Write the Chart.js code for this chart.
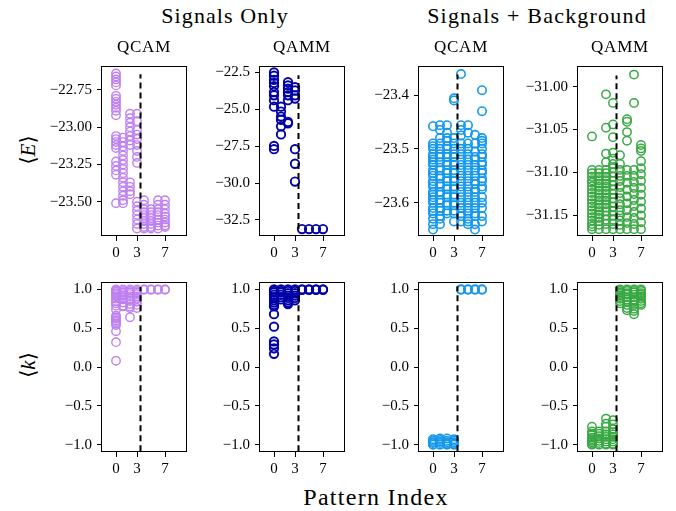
<!DOCTYPE html>
<html>
<head>
<meta charset="utf-8">
<script src="https://cdn.jsdelivr.net/npm/chart.js@4.4.1/dist/chart.umd.min.js"></script>
<style>
  body { margin: 0; background: #fff; width: 676px; height: 511px; position: relative; overflow: hidden;
         font-family: "Liberation Serif", "DejaVu Serif", serif; color: #000; }
  canvas { position: absolute; }
  .t { position: absolute; white-space: nowrap; transform: translate(-50%, -50%); }
  .rot { transform: translate(-50%, -50%) rotate(-90deg); }
</style>
</head>
<body>
<div class="t" style="left:225px;top:16px;font-size:22px;letter-spacing:1.1px">Signals Only</div>
<div class="t" style="left:537px;top:16px;font-size:22px;letter-spacing:1.2px">Signals + Background</div>
<div class="t" style="left:376px;top:497px;font-size:24px;letter-spacing:1.3px">Pattern Index</div>
<div class="t rot" style="left:28px;top:150px;font-size:21px">⟨<i>E</i>⟩</div>
<div class="t rot" style="left:28px;top:365px;font-size:21px">⟨<i>k</i>⟩</div>

<script>
// pattern index ticks and the separating line position
const xTicks = [0, 3, 7];
const splitAt = 3.5;

// ---- Signals Only, QCAM, <E> (one list per pattern index 0..7)
const qcamSigE = [
    [-22.64, -22.66, -22.68, -22.70, -22.72, -22.79, -22.81, -22.83, -22.85, -22.87, -22.89, -22.92,
     -23.06, -23.08, -23.10, -23.12, -23.14, -23.23, -23.26, -23.29, -23.32, -23.51],
    [-23.07, -23.10, -23.13, -23.16, -23.19, -23.22, -23.25, -23.28, -23.31, -23.34, -23.37, -23.40,
     -23.43, -23.46, -23.49, -23.51],
    [-22.91, -22.94, -22.97, -23.00, -23.03, -23.06, -23.09, -23.12, -23.37, -23.40, -23.43, -23.45],
    [-22.91, -22.96, -23.02, -23.05, -23.08, -23.12, -23.16, -23.20, -23.24, -23.50, -23.53, -23.56,
     -23.59, -23.62, -23.65, -23.68],
    [-23.49, -23.52, -23.55, -23.57, -23.59, -23.61, -23.63, -23.65, -23.67, -23.68],
    [-23.55, -23.57, -23.59, -23.61, -23.63, -23.65, -23.67, -23.68],
    [-23.49, -23.52, -23.55, -23.57, -23.59, -23.62, -23.64, -23.66, -23.68],
    [-23.49, -23.52, -23.55, -23.58, -23.60, -23.62, -23.64, -23.66, -23.67]
];
const qcamSigETicks = [-23.5, -23.25, -23.0, -22.75];

// ---- Signals Only, QAMM, <E>
const qammSigE = [
    [-22.50, -22.72, -23.00, -23.21, -23.43, -23.83, -24.05, -24.38, -24.82, -27.48, -27.70],
    [-24.82, -25.15, -25.49, -25.71, -26.15, -26.70],
    [-23.16, -23.38, -23.60, -23.83, -24.05, -24.38, -25.85, -25.95],
    [-23.50, -23.72, -24.05, -24.27, -27.70, -28.69, -29.90],
    [-33.12], [-33.12], [-33.12], [-33.12]
];
const qammSigETicks = [-32.5, -30.0, -27.5, -25.0, -22.5];

// ---- Signals + Background, QCAM, <E>
const qcamBgE = [
    [-23.458, -23.49, -23.495, -23.50, -23.51, -23.515, -23.525, -23.53, -23.54, -23.545, -23.55,
     -23.56, -23.565, -23.57, -23.58, -23.585, -23.59, -23.595, -23.60, -23.61, -23.615, -23.62,
     -23.63, -23.64, -23.65, -23.52],
    [-23.456, -23.465, -23.48, -23.49, -23.50, -23.51, -23.515, -23.525, -23.535, -23.54, -23.55,
     -23.555, -23.565, -23.57, -23.58, -23.585, -23.595, -23.60, -23.61, -23.615, -23.625, -23.63,
     -23.64],
    [-23.456, -23.47, -23.48, -23.485, -23.495, -23.50, -23.51, -23.515, -23.525, -23.53, -23.54,
     -23.545, -23.555, -23.56, -23.57, -23.575, -23.585, -23.59, -23.60, -23.605, -23.615, -23.62],
    [-23.406, -23.41, -23.48, -23.49, -23.50, -23.51, -23.515, -23.525, -23.53, -23.54, -23.545,
     -23.555, -23.56, -23.57, -23.575, -23.585, -23.59, -23.60, -23.605, -23.615, -23.62, -23.635],
    [-23.361, -23.456, -23.465, -23.475, -23.49, -23.50, -23.51, -23.52, -23.53, -23.54, -23.55,
     -23.56, -23.57, -23.58, -23.59, -23.60, -23.61, -23.62, -23.625, -23.635],
    [-23.456, -23.47, -23.49, -23.50, -23.51, -23.52, -23.53, -23.54, -23.55, -23.56, -23.57,
     -23.58, -23.59, -23.60, -23.61, -23.62, -23.63, -23.635, -23.64],
    [-23.474, -23.49, -23.505, -23.515, -23.52, -23.53, -23.54, -23.55, -23.56, -23.565, -23.575,
     -23.58, -23.59, -23.60, -23.61, -23.62, -23.625, -23.64, -23.65],
    [-23.391, -23.43, -23.48, -23.485, -23.49, -23.50, -23.51, -23.515, -23.525, -23.53, -23.54,
     -23.545, -23.555, -23.56, -23.57, -23.575, -23.59, -23.60, -23.61, -23.625, -23.635]
];
const qcamBgETicks = [-23.6, -23.5, -23.4];

// ---- Signals + Background, QAMM, <E>
const qammBgE = [
    [-31.058, -31.097, -31.101, -31.105, -31.109, -31.112, -31.116, -31.12, -31.124, -31.128,
     -31.132, -31.136, -31.14, -31.144, -31.148, -31.152, -31.156, -31.16, -31.163, -31.166],
    [-31.097, -31.101, -31.105, -31.109, -31.113, -31.117, -31.121, -31.125, -31.129, -31.133,
     -31.137, -31.141, -31.145, -31.149, -31.153, -31.157, -31.161, -31.166],
    [-31.009, -31.048, -31.078, -31.088, -31.097, -31.101, -31.105, -31.109, -31.113, -31.117,
     -31.121, -31.125, -31.129, -31.133, -31.137, -31.141, -31.145, -31.15, -31.155, -31.16, -31.166],
    [-31.019, -31.044, -31.059, -31.077, -31.084, -31.09, -31.095, -31.10, -31.105, -31.11, -31.115,
     -31.12, -31.125, -31.13, -31.135, -31.14, -31.145, -31.15, -31.155, -31.16, -31.166],
    [-31.08, -31.09, -31.097, -31.104, -31.11, -31.117, -31.124, -31.13, -31.137, -31.144, -31.15,
     -31.156, -31.161, -31.166],
    [-31.038, -31.041, -31.053, -31.063, -31.097, -31.104, -31.112, -31.12, -31.128, -31.136,
     -31.144, -31.152, -31.159, -31.166],
    [-30.986, -31.019, -31.097, -31.104, -31.111, -31.118, -31.125, -31.132, -31.139, -31.146,
     -31.153, -31.16, -31.166],
    [-31.068, -31.072, -31.075, -31.087, -31.095, -31.102, -31.11, -31.118, -31.126, -31.134,
     -31.142, -31.15, -31.158, -31.166]
];
const qammBgETicks = [-31.15, -31.10, -31.05, -31.00];

// ---- <k> panels
const qcamSigK = [
    [1.0, 0.99, 0.97, 0.95, 0.93, 0.91, 0.88, 0.85, 0.82, 0.79, 0.74, 0.66, 0.64, 0.62, 0.60, 0.58,
     0.56, 0.54, 0.46, 0.32, 0.08],
    [1.0, 0.98, 0.96, 0.94, 0.92, 0.90, 0.87, 0.83, 0.79, 0.78],
    [1.0, 0.98, 0.96, 0.94, 0.91, 0.88, 0.85, 0.81, 0.78, 0.76, 0.64],
    [1.0, 0.98, 0.96, 0.94, 0.91, 0.88, 0.84, 0.80, 0.76],
    [1.0, 0.995], [1.0, 0.995], [1.0, 0.995], [1.0, 0.995]
];
const qammSigK = [
    [1.0, 0.98, 0.96, 0.93, 0.90, 0.86, 0.83, 0.80, 0.78, 0.68, 0.52, 0.33, 0.29, 0.24, 0.17],
    [1.0, 0.98, 0.96, 0.93, 0.90, 0.87],
    [1.0, 0.98, 0.95, 0.92, 0.89, 0.86, 0.83, 0.81],
    [1.0, 0.98, 0.95, 0.92, 0.89, 0.86],
    [1.0, 0.995], [1.0, 0.995], [1.0, 0.995], [1.0, 0.995]
];
const qcamBgK = [
    [-0.93, -0.95, -0.97, -0.98, -1.0],
    [-0.92, -0.94, -0.96, -0.98, -1.0],
    [-0.92, -0.95, -0.97, -0.99, -1.0],
    [-0.93, -0.95, -0.97, -0.99, -1.0],
    [1.0, 0.995], [1.0, 0.995], [1.0, 0.995], [1.0, 0.995]
];
const qammBgK = [
    [-0.77, -0.83, -0.86, -0.88, -0.91, -0.93, -0.95, -0.97, -0.99, -1.0],
    [-0.83, -0.86, -0.89, -0.92, -0.95, -0.98, -1.0],
    [-0.665, -0.73, -0.77, -0.83, -0.87, -0.90, -0.93, -0.96, -0.99, -1.0],
    [-0.685, -0.74, -0.80, -0.84, -0.87, -0.90, -0.93, -0.96, -0.99, -1.0],
    [1.0, 0.98, 0.96, 0.94, 0.92, 0.90, 0.88, 0.85, 0.82],
    [1.0, 0.98, 0.95, 0.93, 0.90, 0.87, 0.84, 0.80, 0.76, 0.73],
    [1.0, 0.98, 0.96, 0.93, 0.90, 0.87, 0.84, 0.80, 0.75, 0.72, 0.68],
    [1.0, 0.98, 0.95, 0.93, 0.91, 0.88, 0.85, 0.82, 0.80]
];
const kTicks = [-1.0, -0.5, 0.0, 0.5, 1.0];

const purple = 'rgb(190, 128, 240)';
const navy = 'rgb(0, 0, 168)';
const sky = 'rgb(22, 152, 235)';
const green = 'rgb(58, 168, 68)';

const FONT = '"Liberation Serif", "DejaVu Serif", serif';
const Y_AXIS_W = 62, X_AXIS_H = 30, PAD = 10;

const framePlugin = {
    id: 'frame',
    afterDraw(chart) {
        const a = chart.chartArea;
        const ctx = chart.ctx;
        ctx.save();
        ctx.strokeStyle = '#000';
        ctx.lineWidth = 1;
        ctx.strokeRect(Math.round(a.left) - 0.5, Math.round(a.top) + 0.5,
            Math.round(a.right - a.left) + 1, Math.round(a.bottom - a.top) - 1);
        ctx.restore();
    }
};

function fmt(v, dec) {
    return v.toFixed(dec).replace('-', '\u2212');
}

function panel(box, cols, color, lw, yMin, yMax, ticks, dec, lineLo, lineHi, title) {
    const canvas = document.createElement('canvas');
    const w = Y_AXIS_W + box.w + PAD, h = PAD + box.h + X_AXIS_H;
    canvas.width = w; canvas.height = h;
    canvas.style.left = (box.left - Y_AXIS_W) + 'px';
    canvas.style.top = (box.top - PAD) + 'px';
    canvas.style.width = w + 'px'; canvas.style.height = h + 'px';
    document.body.appendChild(canvas);

    if (title) {
        const t = document.createElement('div');
        t.className = 't';
        t.style.left = (box.left + box.w / 2) + 'px';
        t.style.top = (box.top - 15) + 'px';
        t.style.fontSize = '17px';
        t.style.letterSpacing = '0.8px';
        t.textContent = title;
        document.body.appendChild(t);
    }

    const points = [];
    cols.forEach((vals, i) => vals.forEach(v => points.push({ x: i, y: v })));

    new Chart(canvas, {
        type: 'scatter',
        data: {
            datasets: [
                {
                    type: 'line',
                    data: [{ x: splitAt, y: lineLo }, { x: splitAt, y: lineHi }],
                    borderColor: '#000',
                    borderWidth: 2,
                    borderDash: [6, 4],
                    pointRadius: 0,
                    order: 0
                },
                {
                    data: points,
                    pointStyle: 'circle',
                    pointRadius: 4.2,
                    pointBorderWidth: lw,
                    pointBorderColor: color,
                    pointBackgroundColor: 'rgba(0,0,0,0)',
                    order: 1
                }
            ]
        },
        options: {
            responsive: false,
            animation: false,
            layout: { padding: { left: 0, top: PAD, right: PAD, bottom: 0 } },
            plugins: { legend: { display: false }, tooltip: { enabled: false } },
            scales: {
                x: {
                    type: 'linear', min: -2, max: 10,
                    afterBuildTicks: s => { s.ticks = xTicks.map(v => ({ value: v })); },
                    afterFit: s => { s.height = X_AXIS_H; },
                    grid: { drawOnChartArea: false, drawTicks: true, tickLength: 5, color: '#000' },
                    border: { display: false },
                    ticks: { autoSkip: false, maxRotation: 0, padding: 3, color: '#000',
                             font: { family: FONT, size: 15 }, callback: v => String(v) }
                },
                y: {
                    type: 'linear', min: yMin, max: yMax,
                    afterBuildTicks: s => { s.ticks = ticks.map(v => ({ value: v })); },
                    afterFit: s => { s.width = Y_AXIS_W; },
                    grid: { drawOnChartArea: false, drawTicks: true, tickLength: 5, color: '#000' },
                    border: { display: false },
                    ticks: { autoSkip: false, padding: 5, color: '#000',
                             font: { family: FONT, size: 15 }, callback: v => fmt(v, dec) }
                }
            }
        },
        plugins: [framePlugin]
    });
}

const topY = 62, botY = 278, boxH = 174, boxW = 84;
const lefts = [102, 260, 419, 578];

panel({ left: lefts[0], top: topY, w: boxW, h: boxH }, qcamSigE, purple, 1.4, -23.73, -22.59, qcamSigETicks, 2, -23.68, -22.645, 'QCAM');
panel({ left: lefts[1], top: topY, w: boxW, h: boxH }, qammSigE, navy, 1.9, -33.59, -22.06, qammSigETicks, 1, -33.12, -22.68, 'QAMM');
panel({ left: lefts[2], top: topY, w: boxW, h: boxH }, qcamBgE, sky, 1.6, -23.662, -23.346, qcamBgETicks, 1, -23.65, -23.362, 'QCAM');
panel({ left: lefts[3], top: topY, w: boxW, h: boxH }, qammBgE, green, 1.5, -31.174, -30.976, qammBgETicks, 2, -31.166, -30.987, 'QAMM');

panel({ left: lefts[0], top: botY, w: boxW, h: boxH }, qcamSigK, purple, 1.4, -1.095, 1.095, kTicks, 1, -1.085, 1.03, null);
panel({ left: lefts[1], top: botY, w: boxW, h: boxH }, qammSigK, navy, 1.9, -1.095, 1.095, kTicks, 1, -1.085, 1.03, null);
panel({ left: lefts[2], top: botY, w: boxW, h: boxH }, qcamBgK, sky, 1.6, -1.095, 1.095, kTicks, 1, -1.085, 1.04, null);
panel({ left: lefts[3], top: botY, w: boxW, h: boxH }, qammBgK, green, 1.5, -1.095, 1.095, kTicks, 1, -1.085, 1.04, null);
</script>
</body>
</html>
